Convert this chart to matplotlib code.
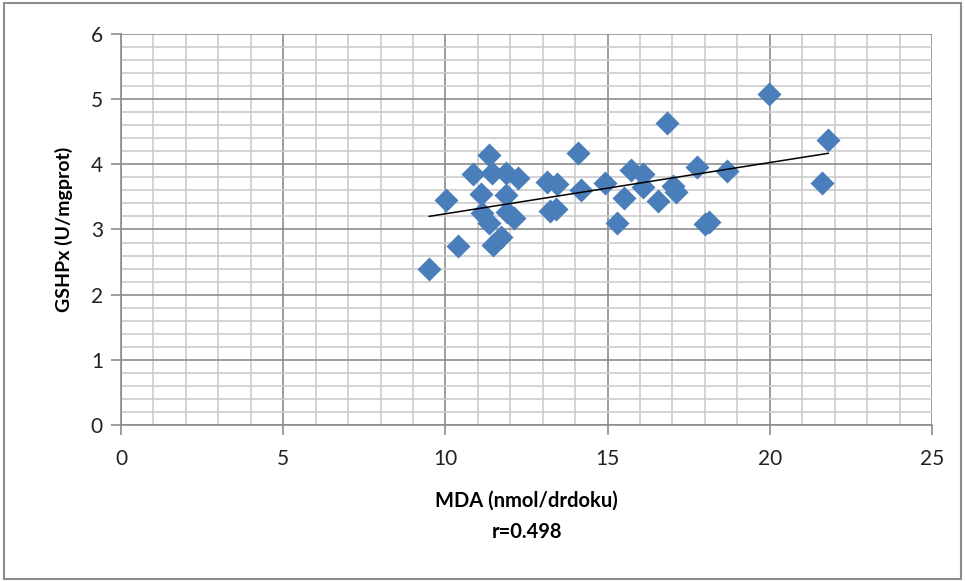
import matplotlib.pyplot as plt
import numpy as np
from matplotlib.patches import Rectangle
from matplotlib.ticker import MultipleLocator

# MDA (nmol/drdoku) vs GSHPx (U/mgprot)
mda = [9.50, 10.01, 10.38, 10.86, 11.35, 11.43, 11.09, 11.86, 12.25, 11.86,
       11.12, 11.34, 11.89, 12.10, 11.70, 11.48, 13.12, 13.43, 13.22, 13.41,
       14.10, 14.17, 14.92, 15.50, 15.30, 15.72, 16.10, 16.10, 16.54, 16.84,
       17.02, 17.11, 17.75, 18.67, 18.00, 18.12, 19.98, 21.80, 21.60]
gshpx = [2.39, 3.45, 2.74, 3.85, 4.14, 3.86, 3.54, 3.86, 3.79, 3.53,
         3.25, 3.10, 3.27, 3.17, 2.89, 2.76, 3.73, 3.70, 3.29, 3.32,
         4.18, 3.60, 3.71, 3.49, 3.10, 3.91, 3.85, 3.65, 3.44, 4.64,
         3.66, 3.58, 3.96, 3.90, 3.08, 3.12, 5.08, 4.37, 3.72]

x_label = "MDA (nmol/drdoku)"
y_label = "GSHPx (U/mgprot)"
r_text = "r=0.498"

plt.rcParams['font.family'] = ['Lato', 'DejaVu Sans']

fig = plt.figure(figsize=(9.65, 5.81), dpi=100)
ax = fig.add_axes([0.1254, 0.2685, 0.8404, 0.673])

# excel-like grid
ax.set_xlim(0, 25)
ax.set_ylim(0, 6)
ax.xaxis.set_major_locator(MultipleLocator(5))
ax.xaxis.set_minor_locator(MultipleLocator(1))
ax.yaxis.set_major_locator(MultipleLocator(1))
ax.yaxis.set_minor_locator(MultipleLocator(0.2))
ax.grid(which='minor', color='#cccccc', linewidth=1.2)
ax.grid(which='major', color='#8c8c8c', linewidth=1.2)
ax.set_axisbelow(True)

ax.scatter(mda, gshpx, marker='D', s=150, color='#4a7ebb', zorder=3,
           linewidths=0)

# linear trend line
k, b = np.polyfit(mda, gshpx, 1)
xs = np.array([min(mda), max(mda)])
ax.plot(xs, k * xs + b, color='black', linewidth=1.1, zorder=4)

for spine in ["top", "right"]:
    ax.spines[spine].set_visible(False)
for spine in ["left", "bottom"]:
    ax.spines[spine].set_color('#8c8c8c')
    ax.spines[spine].set_linewidth(1.2)

ax.tick_params(which='major', length=7, width=1.2, color='#8c8c8c',
               labelsize=15, labelcolor='#222222', pad=6)
ax.tick_params(which='minor', length=0)
ax.tick_params(axis='x', pad=10)

ax.set_ylabel(y_label, fontsize=14, fontweight='bold', labelpad=13)
fig.text(0.5456, 0.139, x_label, ha='center', va='center',
         fontsize=14.5, fontweight='bold')
fig.text(0.5456, 0.084, r_text, ha='center', va='center',
         fontsize=14.5, fontweight='bold')

# chart area border
fig.add_artist(Rectangle((0.004, 0.004), 0.992, 0.99, transform=fig.transFigure,
                         fill=False, edgecolor='#8c8c8c', linewidth=1.5))

plt.savefig('out.png', dpi=100)
plt.close(fig)
